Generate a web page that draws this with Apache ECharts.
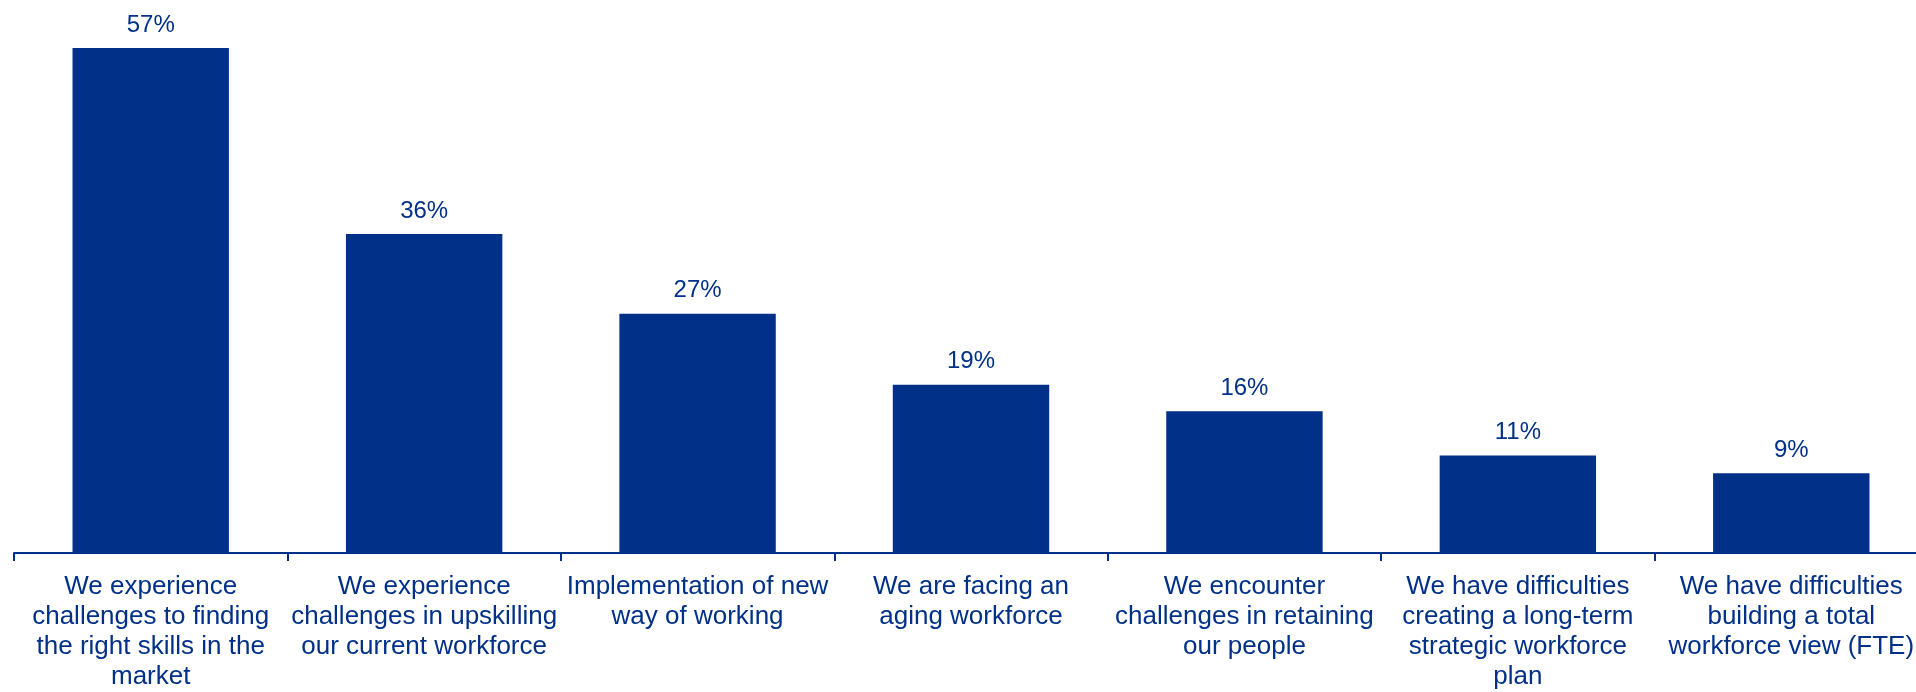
<!DOCTYPE html>
<html>
<head>
<meta charset="utf-8">
<script src="https://cdn.jsdelivr.net/npm/echarts@6/dist/echarts.min.js"></script>
<style>
    html, body { margin: 0; padding: 0; background: #fff; }
    /* the axis runs a little past the right edge, so the canvas is wider and clipped */
    #wrap { width: 1916px; height: 692px; overflow: hidden; }
    #chart { width: 1940px; height: 692px; }
</style>
</head>
<body>
<div id="wrap"><div id="chart"></div></div>
<script>
const categories = [
    'We experience\nchallenges to finding\nthe right skills in the\nmarket',
    'We experience\nchallenges in upskilling\nour current workforce',
    'Implementation of new\nway of working',
    'We are facing an\naging workforce',
    'We encounter\nchallenges in retaining\nour people',
    'We have difficulties\ncreating a long-term\nstrategic workforce\nplan',
    'We have difficulties\nbuilding a total\nworkforce view (FTE)'
];
const shares = [57, 36, 27, 19, 16, 11, 9];

const navy = '#003087';
const fontFamily = '"Liberation Sans", Arial, sans-serif';

const chart = echarts.init(document.getElementById('chart'));

chart.setOption({
    animation: false,
    grid: {
        left: 14,
        width: 1914,
        top: 21.3,
        height: 534.7
    },
    xAxis: {
        type: 'category',
        data: categories,
        axisLine: { lineStyle: { color: navy, width: 2 } },
        axisTick: { show: true, length: 8, lineStyle: { color: navy, width: 2 } },
        axisLabel: {
            interval: 0,
            color: navy,
            fontSize: 26,
            fontFamily: fontFamily,
            lineHeight: 30,
            margin: 19,
            align: 'center'
        }
    },
    yAxis: {
        type: 'value',
        min: 0,
        max: 60,
        show: false,
        splitLine: { show: false }
    },
    series: [
        {
            type: 'bar',
            data: shares,
            barWidth: '57.2%',
            itemStyle: { color: navy },
            label: {
                show: true,
                position: 'top',
                distance: 11,
                color: navy,
                fontSize: 24,
                fontFamily: fontFamily,
                formatter: p => p.value + '%'
            }
        }
    ]
});
</script>
</body>
</html>
